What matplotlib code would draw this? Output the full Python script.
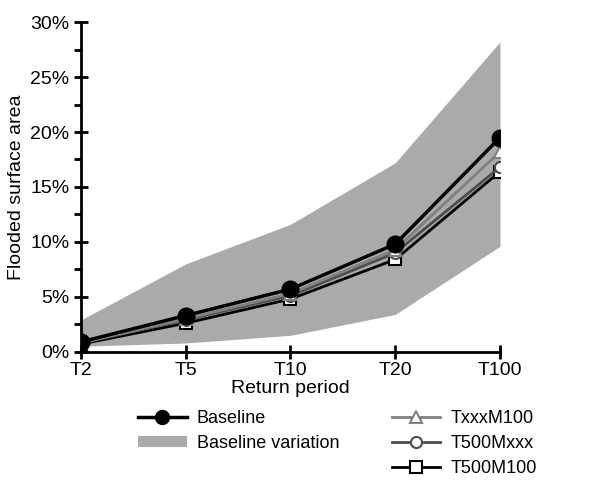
import numpy as np
import matplotlib
matplotlib.use("Agg")
import matplotlib.pyplot as plt
from matplotlib.lines import Line2D
from matplotlib.patches import Patch
from matplotlib.ticker import MultipleLocator, FuncFormatter

plt.rcParams['font.family'] = ['Liberation Sans', 'DejaVu Sans']

# return periods and flooded area (%)
periods = ['T2', 'T5', 'T10', 'T20', 'T100']
baseline = [0.9, 3.3, 5.7, 9.8, 19.5]
band_low = [0.5, 0.8, 1.5, 3.4, 9.6]
band_high = [2.9, 8.0, 11.6, 17.2, 28.2]
txxx_m100 = [0.8, 3.0, 5.3, 9.3, 18.2]
t500_mxxx = [0.8, 2.9, 5.1, 9.0, 16.8]
t500_m100 = [0.7, 2.6, 4.8, 8.4, 16.4]

x = np.arange(len(periods))

fig = plt.figure(figsize=(6.09, 4.92), dpi=100)
ax = fig.add_axes([0.133, 0.285, 0.688, 0.67])

ax.fill_between(x, band_low, band_high, color='#aaaaaa', linewidth=0, zorder=1)

ax.plot(x, t500_m100, color='black', lw=2, marker='s', ms=8,
        mfc='white', mec='black', mew=1.5, zorder=3)
ax.plot(x, t500_mxxx, color='#4d4d4d', lw=2, marker='o', ms=8,
        mfc='white', mec='#4d4d4d', mew=1.5, zorder=3)
ax.plot(x, txxx_m100, color='#808080', lw=2, marker='^', ms=9,
        mfc='white', mec='#808080', mew=1.5, zorder=3)
ax.plot(x, baseline, color='black', lw=2.5, marker='o', ms=12,
        mfc='black', mec='black', zorder=4)

ax.set_xlim(0, 4)
ax.set_ylim(0, 30)
ax.set_xticks(x)
ax.set_xticklabels(periods)
ax.yaxis.set_major_locator(MultipleLocator(5))
ax.yaxis.set_minor_locator(MultipleLocator(2.5))
ax.yaxis.set_major_formatter(FuncFormatter(lambda v, p: f"{v:.0f}%"))

for s in ['top', 'right']:
    ax.spines[s].set_visible(False)
for s in ['left', 'bottom']:
    ax.spines[s].set_linewidth(2)
ax.tick_params(axis='both', which='major', direction='inout', length=10,
               width=2, labelsize=14)
ax.tick_params(axis='y', which='minor', direction='out', length=5, width=2)
ax.tick_params(axis='x', pad=2)

ax.set_xlabel('Return period', fontsize=14, labelpad=1)
ax.set_ylabel('Flooded surface area', fontsize=14, labelpad=4)

handles = [
    Line2D([], [], color='black', lw=2.5, marker='o', ms=10, mfc='black'),
    Patch(facecolor='#aaaaaa', edgecolor='none'),
    Line2D([], [], color='none'),
    Line2D([], [], color='#808080', lw=2, marker='^', ms=8, mfc='white', mec='#808080', mew=1.5),
    Line2D([], [], color='#4d4d4d', lw=2, marker='o', ms=8, mfc='white', mec='#4d4d4d', mew=1.5),
    Line2D([], [], color='black', lw=2, marker='s', ms=8, mfc='white', mec='black', mew=1.5),
]
labels = ['Baseline', 'Baseline variation', '', 'TxxxM100', 'T500Mxxx', 'T500M100']
fig.legend(handles, labels, ncol=2, loc='upper left', bbox_to_anchor=(0.2, 0.2),
           frameon=False, fontsize=13, handlelength=2.7, handleheight=0.6,
           columnspacing=2.9, labelspacing=0.45, handletextpad=0.55)

fig.savefig('out.png', dpi=100)
